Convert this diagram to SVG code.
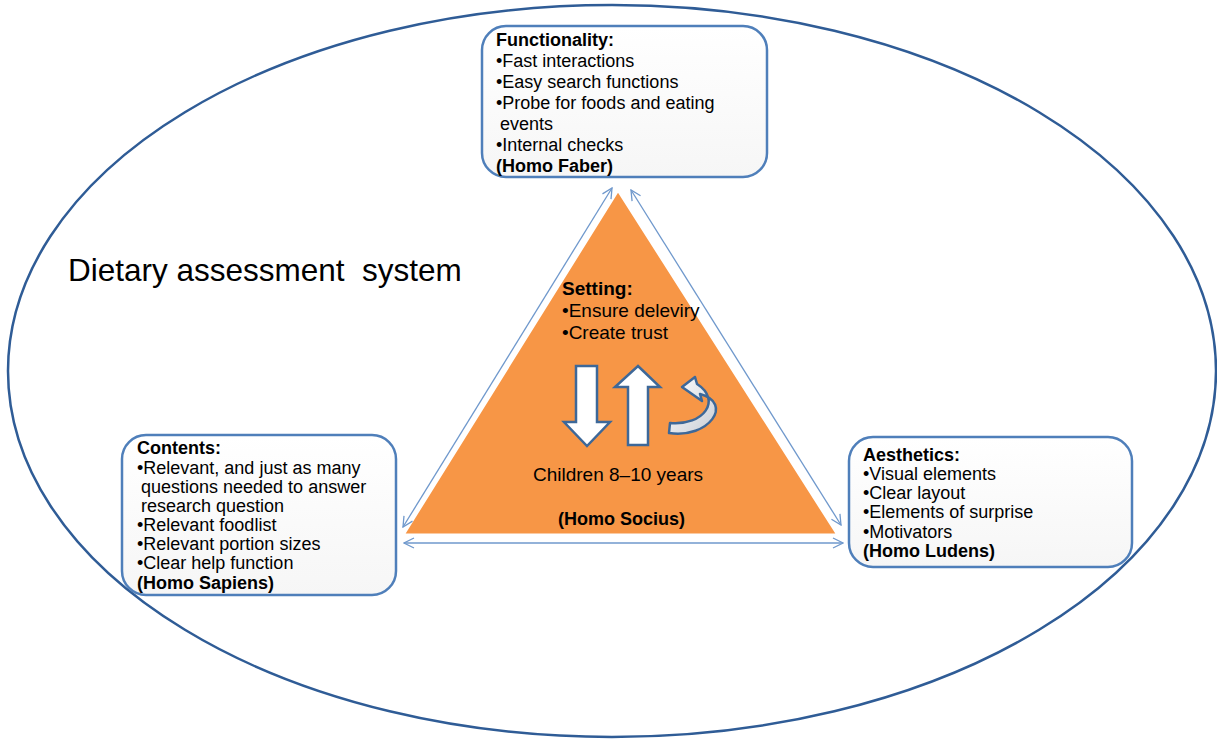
<svg xmlns="http://www.w3.org/2000/svg" width="1217" height="740" viewBox="0 0 1217 740">
<defs>
<style>
text{font-family:"Liberation Sans",Arial,sans-serif;fill:#000}
.t{font-size:18px}
.b{font-weight:bold}
.box{fill:url(#bg);stroke:#4F7FBA;stroke-width:2.5}
.con{stroke:#6F98CC;stroke-width:1.3;fill:none}
.arr{fill:#fff;stroke:#3D6899;stroke-width:2.5;stroke-linejoin:miter}
</style>
<linearGradient id="bg" x1="0" y1="0" x2="0" y2="1">
<stop offset="0" stop-color="#fff"/><stop offset="1" stop-color="#f6f6f6"/>
</linearGradient>
<linearGradient id="cg" x1="0" y1="0" x2="1" y2="1">
<stop offset="0" stop-color="#fff"/><stop offset="1" stop-color="#c9ced6"/>
</linearGradient>
<marker id="ah" viewBox="0 0 12 12" refX="11" refY="6" markerWidth="12" markerHeight="12" markerUnits="userSpaceOnUse" orient="auto-start-reverse">
<path d="M1,1 L11,6 L1,11" fill="none" stroke="#6F98CC" stroke-width="1.3"/>
</marker>
</defs>
<rect width="1217" height="740" fill="#fff"/>
<g id="system">
<ellipse cx="612" cy="371" rx="604" ry="366" fill="none" stroke="#2F5C96" stroke-width="2.5"/>
<text x="68" y="281" xml:space="preserve" style="font-size:31.5px;white-space:pre">Dietary assessment  system</text>
</g>
<g id="setting">
<polygon points="618,190 403,535 838,535" fill="#F79646" stroke="#fff" stroke-width="3"/>
<text class="t b" x="562" y="295" style="font-size:19px">Setting:</text>
<text class="t" x="562" y="317" style="font-size:19px">•Ensure deleviry</text>
<text class="t" x="562" y="339" style="font-size:19px">•Create trust</text>
<path class="arr" d="M576,366 L597,366 L597,422 L610,422 L587,446 L564,422 L576,422 Z"/>
<path class="arr" d="M638,366 L660,387 L648,387 L648,445 L628,445 L628,387 L615,387 Z"/>
<path d="M670,423 C704,426 722,400 697,384 L695,377 L682,387 L702,401 L700,394 C734,403 709,439 669,433 Z" fill="url(#cg)" stroke="#3D6899" stroke-width="2.5" stroke-linejoin="round"/>
<text x="533" y="481" style="font-size:19px">Children 8–10 years</text>
<text class="b" x="558" y="525" style="font-size:18px">(Homo Socius)</text>
</g>
<g id="connectors">
<line class="con" x1="612" y1="188" x2="403" y2="527" marker-start="url(#ah)" marker-end="url(#ah)"/>
<line class="con" x1="631" y1="190" x2="841" y2="525" marker-start="url(#ah)" marker-end="url(#ah)"/>
<line class="con" x1="404" y1="543" x2="843" y2="543" marker-start="url(#ah)" marker-end="url(#ah)"/>
</g>
<g id="functionality">
<rect class="box" x="482" y="26" width="285" height="151" rx="24"/>
<text class="t b" x="496" y="46">Functionality:</text>
<text class="t" x="496" y="67">•Fast interactions</text>
<text class="t" x="496" y="88">•Easy search functions</text>
<text class="t" x="496" y="109">•Probe for foods and eating</text>
<text class="t" x="500" y="130">events</text>
<text class="t" x="496" y="151">•Internal checks</text>
<text class="t b" x="496" y="172">(Homo Faber)</text>
</g>
<g id="contents">
<rect class="box" x="122" y="435" width="274" height="160" rx="24"/>
<text class="t b" x="137" y="454">Contents:</text>
<text class="t" x="137" y="474">•Relevant, and just as many</text>
<text class="t" x="141" y="493">questions needed to answer</text>
<text class="t" x="141" y="512">research question</text>
<text class="t" x="137" y="531">•Relevant foodlist</text>
<text class="t" x="137" y="550">•Relevant portion sizes</text>
<text class="t" x="137" y="569">•Clear help function</text>
<text class="t b" x="137" y="589">(Homo Sapiens)</text>
</g>
<g id="aesthetics">
<rect class="box" x="849" y="437" width="283" height="130" rx="24"/>
<text class="t b" x="863" y="461">Aesthetics:</text>
<text class="t" x="863" y="480">•Visual elements</text>
<text class="t" x="863" y="499">•Clear layout</text>
<text class="t" x="863" y="518">•Elements of surprise</text>
<text class="t" x="863" y="538">•Motivators</text>
<text class="t b" x="863" y="557">(Homo Ludens)</text>
</g>
</svg>
